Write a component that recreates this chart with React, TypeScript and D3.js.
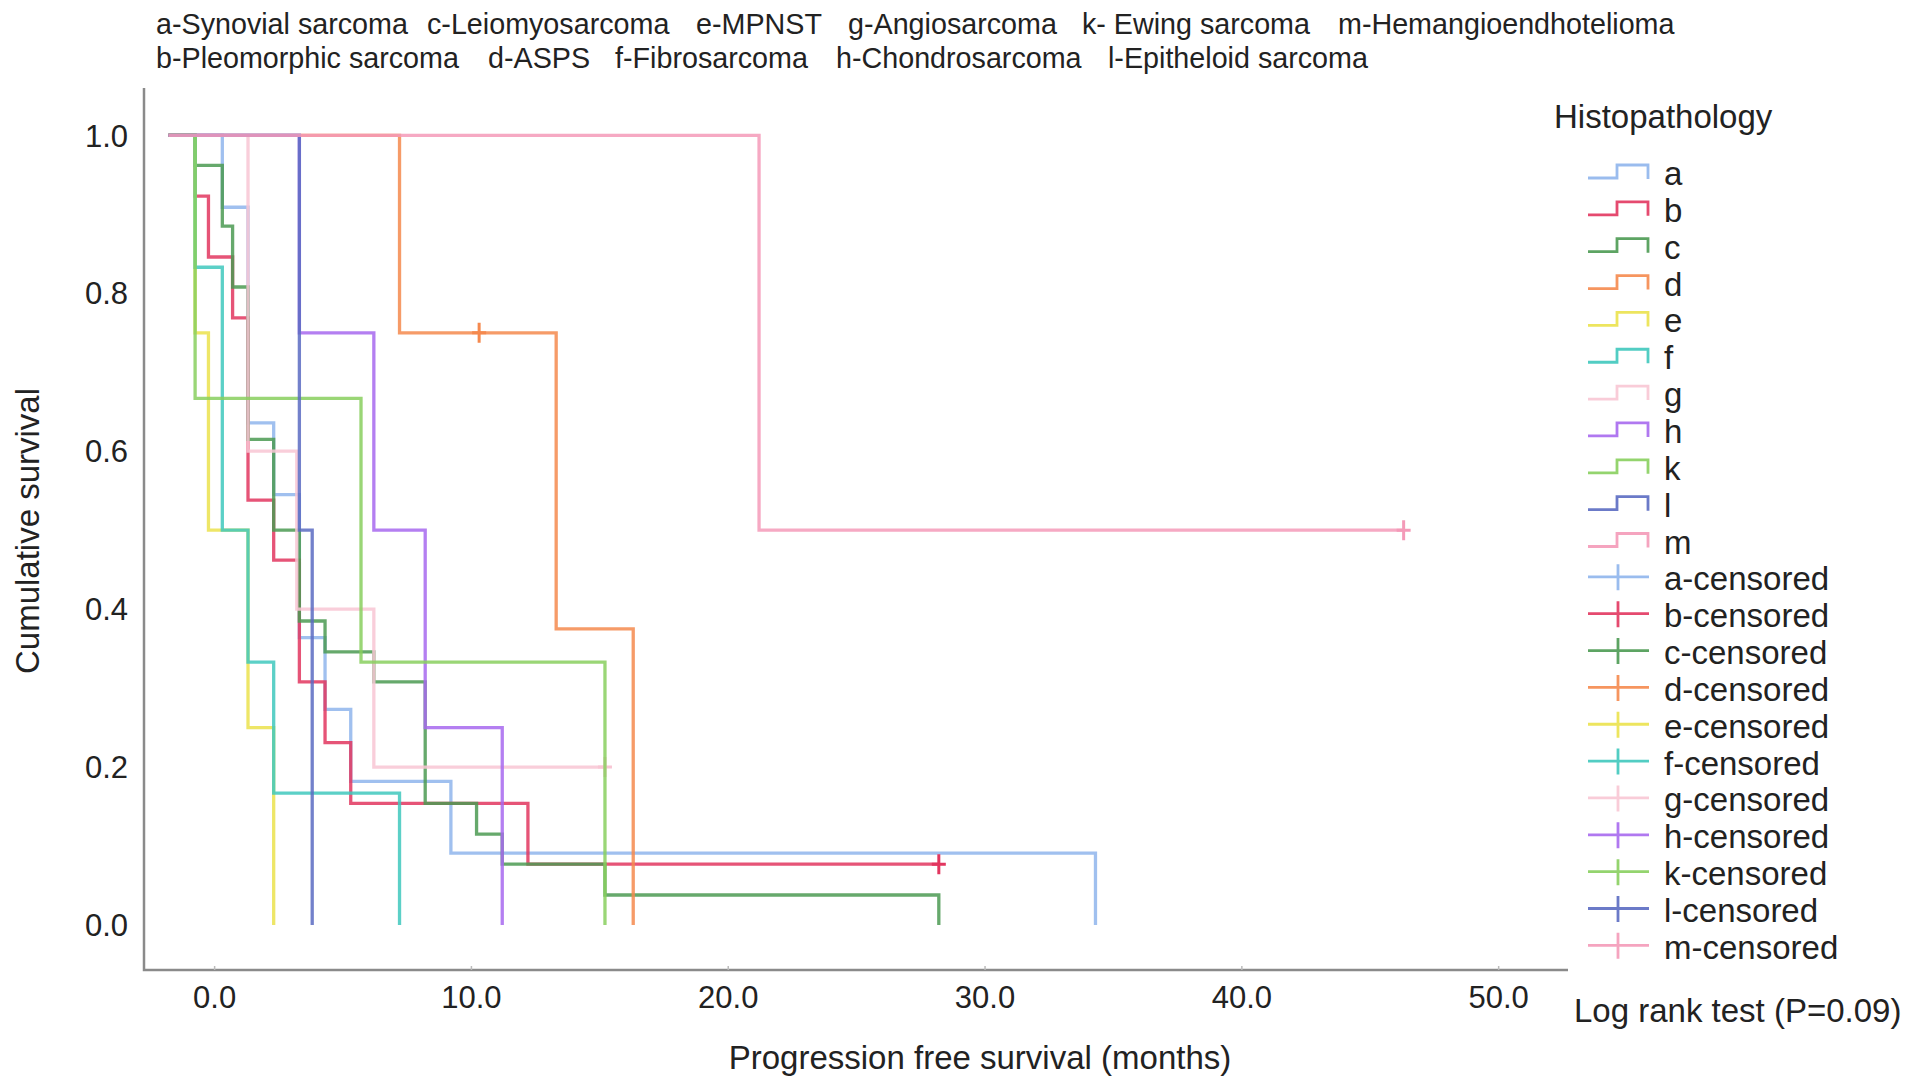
import * as d3 from 'd3';

// Kaplan-Meier steps (months, cumulative survival after each drop)
const START = -1.8;

const aTimes = [0.3, 1.3, 2.3, 3.3, 4.3, 5.3, 9.2, 34.3];
const aSurv = [0.909, 0.636, 0.545, 0.364, 0.273, 0.182, 0.091, 0];
const aCensor: number[] = [];

const bTimes = [-0.76, -0.24, 0.7, 1.3, 2.3, 3.3, 4.3, 5.3, 12.2];
const bSurv = [0.923, 0.846, 0.769, 0.538, 0.462, 0.308, 0.231, 0.154, 0.077];
const bCensor = [28.2];

const cTimes = [-0.76, 0.3, 0.7, 1.3, 2.3, 3.3, 4.3, 6.2, 8.2, 10.2, 11.2, 15.2, 28.2];
const cSurv = [0.962, 0.885, 0.808, 0.615, 0.5, 0.385, 0.346, 0.308, 0.154, 0.115, 0.077, 0.038, 0];
const cCensor: number[] = [];

const dTimes = [7.2, 13.3, 16.3];
const dSurv = [0.75, 0.375, 0];
const dCensor = [10.3];

const eTimes = [-0.76, -0.24, 1.3, 2.3];
const eSurv = [0.75, 0.5, 0.25, 0];
const eCensor: number[] = [];

const fTimes = [-0.76, 0.3, 1.3, 2.3, 7.2];
const fSurv = [0.833, 0.5, 0.333, 0.167, 0];
const fCensor: number[] = [];

const gTimes = [1.3, 3.2, 6.2];
const gSurv = [0.6, 0.4, 0.2];
const gCensor = [15.2];

const hTimes = [3.3, 6.2, 8.2, 11.2];
const hSurv = [0.75, 0.5, 0.25, 0];
const hCensor: number[] = [];

const kTimes = [-0.76, 5.7, 15.2];
const kSurv = [0.667, 0.333, 0];
const kCensor: number[] = [];

const lTimes = [3.3, 3.8];
const lSurv = [0.5, 0];
const lCensor: number[] = [];

const mTimes = [21.2];
const mSurv = [0.5];
const mCensor = [46.3];

const GROUPS = ['a', 'b', 'c', 'd', 'e', 'f', 'g', 'h', 'k', 'l', 'm'];
const TIMES = [aTimes, bTimes, cTimes, dTimes, eTimes, fTimes, gTimes, hTimes, kTimes, lTimes, mTimes];
const SURV = [aSurv, bSurv, cSurv, dSurv, eSurv, fSurv, gSurv, hSurv, kSurv, lSurv, mSurv];
const CENSOR = [aCensor, bCensor, cCensor, dCensor, eCensor, fCensor, gCensor, hCensor, kCensor, lCensor, mCensor];

const TOP_ROW1 = ['a-Synovial sarcoma', 'c-Leiomyosarcoma', 'e-MPNST', 'g-Angiosarcoma', 'k- Ewing sarcoma', 'm-Hemangioendhotelioma'];
const TOP_ROW2 = ['b-Pleomorphic sarcoma', 'd-ASPS', 'f-Fibrosarcoma', 'h-Chondrosarcoma', 'l-Epitheloid sarcoma'];

const X_TICKS = [0, 10, 20, 30, 40, 50];
const Y_TICKS = [0, 0.2, 0.4, 0.6, 0.8, 1.0];

const COLORS = ['#8fb5ec', '#e2365f', '#4b9a52', '#f5894e', '#ebe24c', '#3fc8bd', '#f8c6d4', '#a769ee', '#88cf5e', '#5b6bc2', '#f49ab8'];

const W = 1913;
const H = 1092;
const FONT = '"Liberation Sans", Arial, Helvetica, sans-serif';
const TEXT = '#222';

// layout
const plot = { left: 144, right: 1568, top: 88, bottom: 970 };
const row1X = [156, 427, 696, 848, 1082, 1338];
const row2X = [156, 488, 615, 836, 1108];

export default function App() {
  const x = d3.scaleLinear().domain([-2.75, 52.7]).range([plot.left, plot.right]);
  const y = d3.scaleLinear().domain([-0.057, 1.06]).range([plot.bottom, plot.top]);
  const line = d3.line<[number, number]>().x((d) => x(d[0])).y((d) => y(d[1])).curve(d3.curveStepAfter);

  const curves = GROUPS.map((g, i) => {
    const pts: [number, number][] = [[START, 1]];
    TIMES[i].forEach((t, j) => pts.push([t, SURV[i][j]]));
    const last = SURV[i][SURV[i].length - 1];
    const lastCensor = d3.max(CENSOR[i]);
    if (lastCensor !== undefined && lastCensor > TIMES[i][TIMES[i].length - 1]) pts.push([lastCensor, last]);
    // survival at each censor time
    const marks = CENSOR[i].map((c) => {
      let s = 1;
      TIMES[i].forEach((t, j) => { if (t <= c) s = SURV[i][j]; });
      return [c, s] as [number, number];
    });
    return { g, color: COLORS[i], d: line(pts)!, marks };
  });

  const legendLabels = [...GROUPS, ...GROUPS.map((g) => `${g}-censored`)];
  const rowBase = (i: number) => 185 + i * 36.85;

  return (
    <svg width={W} height={H} style={{ position: 'absolute', left: 0, top: 0, background: '#fff' }} fontFamily={FONT}>
      {/* abbreviations */}
      {TOP_ROW1.map((t, i) => (
        <text key={t} x={row1X[i]} y={34} fontSize={28.7} fill={TEXT}>{t}</text>
      ))}
      {TOP_ROW2.map((t, i) => (
        <text key={t} x={row2X[i]} y={68} fontSize={28.7} fill={TEXT}>{t}</text>
      ))}

      {/* axes */}
      <path d={`M${plot.left},${plot.top}V${plot.bottom}H${plot.right}`} fill="none" stroke="#8a8a8a" strokeWidth={2.5} />
      {X_TICKS.map((t) => (
        <g key={t}>
          <line x1={x(t)} x2={x(t)} y1={plot.bottom} y2={plot.bottom - 4} stroke="#bbb" strokeWidth={1.5} />
          <text x={x(t)} y={1008} fontSize={31} textAnchor="middle" fill={TEXT}>{d3.format('.1f')(t)}</text>
        </g>
      ))}
      {Y_TICKS.map((t) => (
        <text key={t} x={128} y={y(t)} dy="0.36em" fontSize={31} textAnchor="end" fill={TEXT}>{d3.format('.1f')(t)}</text>
      ))}
      <text x={980} y={1069} fontSize={33} textAnchor="middle" fill={TEXT}>Progression free survival (months)</text>
      <text transform={`translate(39,531) rotate(-90)`} fontSize={33} textAnchor="middle" fill={TEXT}>Cumulative survival</text>

      {/* curves */}
      {curves.map((c) => (
        <g key={c.g}>
          <path d={c.d} fill="none" stroke={c.color} strokeWidth={3.3} strokeOpacity={0.85} />
          {c.marks.map(([t, s]) => (
            <path key={t} d={`M${x(t)},${y(s) - 10}V${y(s) + 10}M${x(t) - 7},${y(s)}H${x(t) + 7}`} stroke={c.color} strokeWidth={3} />
          ))}
        </g>
      ))}

      {/* legend */}
      <text x={1554} y={128} fontSize={33} fill={TEXT}>Histopathology</text>
      {legendLabels.map((lab, i) => {
        const b = rowBase(i);
        const color = COLORS[i % GROUPS.length];
        const censored = i >= GROUPS.length;
        return (
          <g key={lab}>
            {censored ? (
              <path d={`M1588,${b - 13.5}H1649M1618,${b - 26}V${b}`} fill="none" stroke={color} strokeWidth={2.8} strokeOpacity={0.9} />
            ) : (
              <path d={`M1588,${b - 7}H1617V${b - 20}H1648V${b - 6}`} fill="none" stroke={color} strokeWidth={2.8} strokeOpacity={0.9} />
            )}
            <text x={1664} y={b} fontSize={33} fill={TEXT}>{lab}</text>
          </g>
        );
      })}
      <text x={1574} y={1022} fontSize={33} fill={TEXT}>Log rank test (P=0.09)</text>
    </svg>
  );
}
